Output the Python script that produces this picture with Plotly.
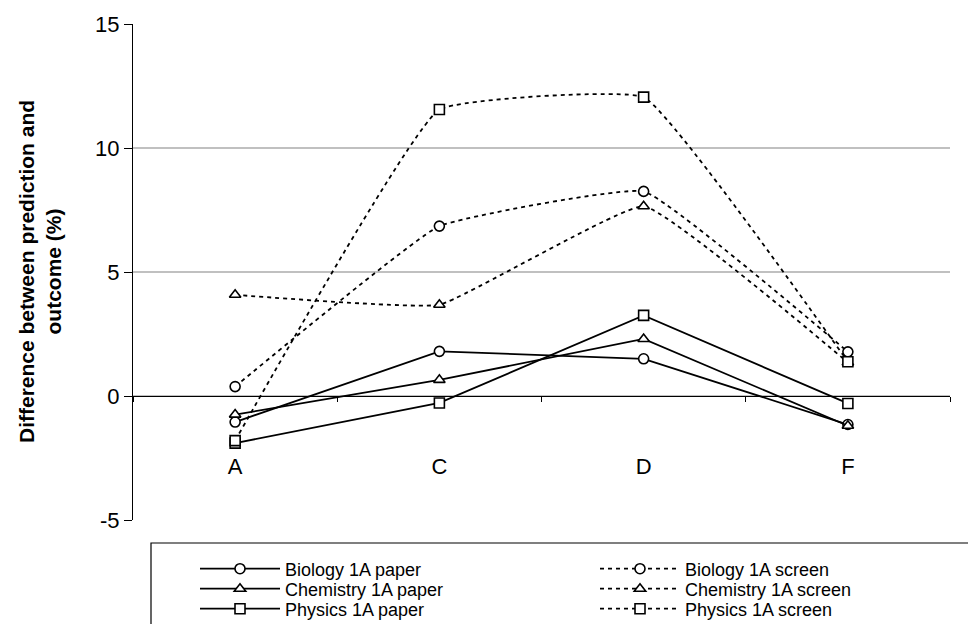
import plotly.graph_objects as go

categories = ["A", "C", "D", "F"]
bio_paper = [-1.05, 1.8, 1.5, -1.15]
chem_paper = [-0.75, 0.65, 2.3, -1.2]
phys_paper = [-1.9, -0.28, 3.25, -0.3]
bio_screen = [0.38, 6.85, 8.25, 1.78]
chem_screen = [4.08, 3.68, 7.65, 1.35]
phys_screen = [-1.8, 11.55, 12.05, 1.38]
y_ticks = [-5, 0, 5, 10, 15]

series = [
    ("Biology 1A paper", bio_paper, "circle", "solid", "legend"),
    ("Biology 1A screen", bio_screen, "circle", "screen", "legend"),
    ("Chemistry 1A paper", chem_paper, "triangle-up", "solid", "legend2"),
    ("Chemistry 1A screen", chem_screen, "triangle-up", "screen", "legend2"),
    ("Physics 1A paper", phys_paper, "square", "solid", "legend3"),
    ("Physics 1A screen", phys_screen, "square", "screen", "legend3"),
]

# the page body adds an 8px offset; work in screen pixels and convert
OFF = 8
W, H = 976 - OFF, 624 - OFF
L, T = 133 - OFF, 24 - OFF
R = W - (950 - OFF)
B = H - (520 - OFF)
pw = W - L - R
ph = H - T - B


def px_x(p):
    return (p - OFF - L) / pw


def px_y(p):
    return (H - B - (p - OFF)) / ph


fig = go.Figure()
for name, vals, sym, style, lg in series:
    if style == "solid":
        line = dict(color="black", width=1.8)
    else:
        line = dict(color="black", width=1.8, dash="4px,4px", shape="spline", smoothing=0.3)
    fig.add_trace(go.Scatter(
        x=categories, y=vals, name=name, mode="lines+markers",
        line=line, legend=lg,
        marker=dict(symbol=sym, size=10, color="white", line=dict(color="black", width=1.6)),
    ))

row_y = [569, 589, 609]
leg_common = dict(
    orientation="h", xanchor="left", yanchor="middle",
    entrywidth=305, entrywidthmode="pixels",
    itemwidth=80,
    font=dict(size=18, family="Liberation Sans, Arial", color="black"),
    bgcolor="rgba(0,0,0,0)", borderwidth=0,
)

fig.update_layout(
    width=W, height=H,
    margin=dict(l=L, r=R, t=T, b=B, autoexpand=False),
    paper_bgcolor="white", plot_bgcolor="white",
    font=dict(family="Liberation Sans, Arial", size=22, color="black"),
    showlegend=True,
    legend=dict(x=px_x(195), y=px_y(row_y[0]), **leg_common),
    legend2=dict(x=px_x(195), y=px_y(row_y[1]), **leg_common),
    legend3=dict(x=px_x(195), y=px_y(row_y[2]), **leg_common),
    xaxis=dict(
        type="category", range=[-0.5, 3.5],
        anchor="free", position=0.25,
        showline=True, linecolor="black", linewidth=1.3,
        ticks="outside", ticklen=5, tickcolor="black", tickwidth=1,
        tickson="boundaries", showgrid=False,
        ticklabelstandoff=50,
        tickfont=dict(size=22),
    ),
    yaxis=dict(
        range=[-5, 15], tickvals=y_ticks, ticktext=[str(v) for v in y_ticks],
        showline=True, linecolor="black", linewidth=1.3,
        ticks="outside", ticklen=8, tickcolor="black",
        showgrid=True, gridcolor="#c0c0c0", gridwidth=1.5,
        zeroline=False,
        tickfont=dict(size=22),
    ),
    shapes=[dict(
        type="rect", xref="paper", yref="paper",
        x0=px_x(151), x1=px_x(969), y0=px_y(543), y1=px_y(660),
        line=dict(color="black", width=1.2), fillcolor="rgba(0,0,0,0)", layer="below",
    )],
    annotations=[dict(
        text="Difference between prediction and<br>outcome (%)",
        xref="paper", yref="paper", x=px_x(40), y=0.5,
        xanchor="center", yanchor="middle", textangle=-90, showarrow=False,
        font=dict(size=21, family="Liberation Sans, Arial", color="black", weight="bold"),
    )],
)

fig.write_html("out.html")
